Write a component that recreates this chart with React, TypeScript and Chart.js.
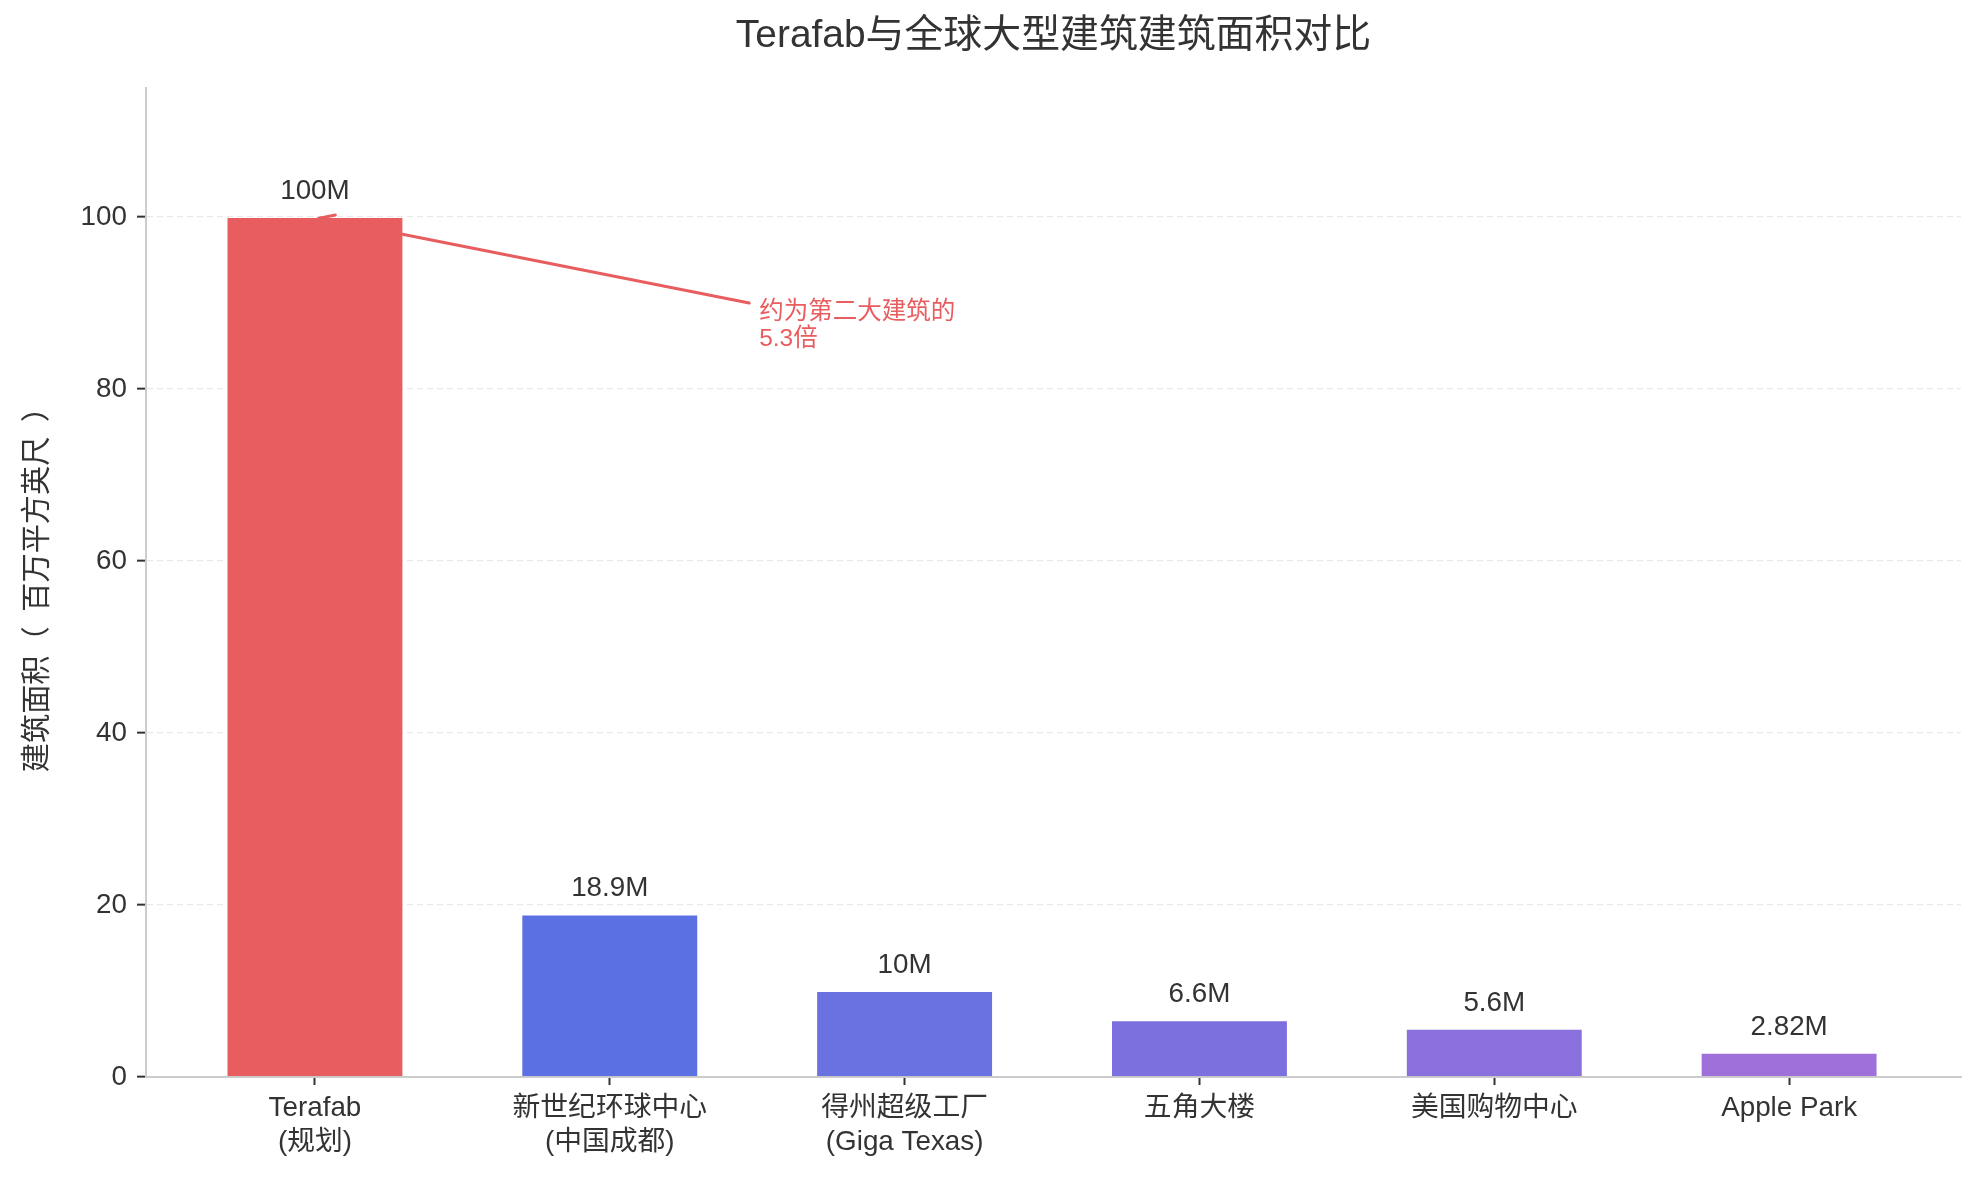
import React, { useEffect, useRef } from 'react';
import { Chart, registerables } from 'chart.js';

Chart.register(...registerables);

// ---- data ----
const categories: string[][] = [
  ['Terafab', '(规划)'],
  ['新世纪环球中心', '(中国成都)'],
  ['得州超级工厂', '(Giga Texas)'],
  ['五角大楼'],
  ['美国购物中心'],
  ['Apple Park'],
];
const areas: number[] = [100, 18.9, 10, 6.6, 5.6, 2.82];
const valueLabels: string[] = ['100M', '18.9M', '10M', '6.6M', '5.6M', '2.82M'];
const barColors: string[] = ['#E85E60', '#5B71E3', '#6A71E0', '#7B70DD', '#8A70DC', '#9F70D9'];
const yTicks: number[] = [0, 20, 40, 60, 80, 100];
const chartTitle = 'Terafab与全球大型建筑建筑面积对比';
const yAxisTitle = '建筑面积（\u2002百万平方英尺\u2002）';
const annotationLines: string[] = ['约为第二大建筑的', '5.3倍'];
const annotationTarget = { x: 0, y: 100 };
const annotationTextPos = { x: 1.5, y: 90 };

const FONT = "'Liberation Sans', 'Noto Sans CJK SC', Arial, sans-serif";
const TEXT = '#333333';
const RED = '#E85E60';

const overlayPlugin = {
  id: 'overlay',
  afterDatasetsDraw(chart: any) {
    const { ctx, scales, chartArea } = chart;
    const xs = scales.x;
    const ys = scales.y;
    ctx.save();

    // value labels
    ctx.fillStyle = TEXT;
    ctx.font = `27.8px ${FONT}`;
    ctx.textAlign = 'center';
    ctx.textBaseline = 'alphabetic';
    areas.forEach((v, i) => {
      ctx.fillText(valueLabels[i], xs.getPixelForValue(i), ys.getPixelForValue(v) - 18);
    });

    // annotation
    const tx = xs.getPixelForValue(annotationTextPos.x) + 2;
    const ty = ys.getPixelForValue(annotationTextPos.y);
    ctx.font = `24.5px ${FONT}`;
    ctx.textAlign = 'left';
    ctx.fillStyle = RED;
    const lineGap = 27;
    const base1 = ty + 16;
    annotationLines.forEach((l, i) => ctx.fillText(l, tx, base1 + i * lineGap));
    const w = Math.max(...annotationLines.map((l) => ctx.measureText(l).width));
    const boxTop = base1 - 22;
    const boxBottom = base1 + lineGap + 6;
    const cx = tx + w / 2;
    const cy = (boxTop + boxBottom) / 2;
    const px = xs.getPixelForValue(annotationTarget.x);
    const py = ys.getPixelForValue(annotationTarget.y);
    const dx = px - cx;
    const dy = py - cy;
    const len = Math.hypot(dx, dy);
    const ux = dx / len;
    const uy = dy / len;
    const startX = tx - 10;
    const tStart = (startX - cx) / ux;
    const sx = cx + ux * tStart;
    const sy = cy + uy * tStart;
    const ex = px - ux * 5.6;
    const ey = py - uy * 5.6;
    ctx.strokeStyle = RED;
    ctx.lineWidth = 3;
    ctx.lineCap = 'round';
    ctx.beginPath();
    ctx.moveTo(sx, sy);
    ctx.lineTo(ex, ey);
    ctx.stroke();
    const hl = 14;
    const hw = 6;
    ctx.beginPath();
    ctx.moveTo(ex - ux * hl - uy * hw, ey - uy * hl + ux * hw);
    ctx.lineTo(ex, ey);
    ctx.lineTo(ex - ux * hl + uy * hw, ey - uy * hl - ux * hw);
    ctx.stroke();

    // title centered over plot area
    ctx.fillStyle = TEXT;
    ctx.font = `38.9px ${FONT}`;
    ctx.textAlign = 'center';
    ctx.textBaseline = 'middle';
    ctx.fillText(chartTitle, (chartArea.left + chartArea.right) / 2, 36);
    ctx.restore();
  },
};

export default function App() {
  const canvasRef = useRef<HTMLCanvasElement | null>(null);

  useEffect(() => {
    document.body.style.margin = '0';
    const canvas = canvasRef.current;
    if (!canvas) return;
    const chart = new Chart(canvas, {
      type: 'bar',
      data: {
        datasets: [
          {
            data: areas.map((v, i) => ({ x: i, y: v })),
            backgroundColor: barColors,
            borderColor: 'rgba(255,255,255,0.25)',
            borderWidth: 1,
            categoryPercentage: 1,
            barPercentage: 0.6,
          },
        ],
      },
      options: {
        responsive: false,
        animation: false,
        devicePixelRatio: 1,
        layout: { padding: { top: 88, right: 18, left: 0, bottom: 0 } },
        plugins: {
          legend: { display: false },
          title: { display: false },
          tooltip: { enabled: false },
        },
        scales: {
          x: {
            type: 'linear',
            min: -0.573,
            max: 5.583,
            offset: false,
            afterBuildTicks: (axis: any) => {
              axis.ticks = categories.map((_, i) => ({ value: i }));
            },
            afterFit: (axis: any) => {
              axis.height = 100;
            },
            ticks: {
              autoSkip: false,
              maxRotation: 0,
              minRotation: 0,
              color: TEXT,
              padding: 7,
              font: { family: FONT, size: 27.8, lineHeight: 1.2 },
              callback: (value: any) => categories[Math.round(Number(value))] ?? '',
            },
            grid: {
              drawOnChartArea: false,
              drawTicks: true,
              tickLength: 8,
              tickWidth: 2,
              tickColor: TEXT,
              offset: false,
            },
            border: { display: true, color: '#CCCCCC', width: 2 },
          },
          y: {
            type: 'linear',
            min: 0,
            max: 115,
            afterBuildTicks: (axis: any) => {
              axis.ticks = yTicks.map((v) => ({ value: v }));
            },
            afterFit: (axis: any) => {
              axis.width = 146;
            },
            ticks: {
              color: TEXT,
              padding: 10,
              font: { family: FONT, size: 27.8 },
            },
            grid: {
              color: '#E9E9E9',
              lineWidth: 1.3,
              drawTicks: true,
              tickLength: 9,
              tickWidth: 2,
              tickColor: TEXT,
              tickBorderDash: [],
            },
            border: { display: true, color: '#CCCCCC', width: 2, dash: [6, 4] },
            title: {
              display: true,
              text: yAxisTitle,
              color: TEXT,
              font: { family: FONT, size: 29.2 },
              padding: { top: 20, bottom: 0 },
            },
          },
        },
      },
      plugins: [overlayPlugin],
    });
    return () => chart.destroy();
  }, []);

  return (
    <div style={{ width: 1979, height: 1177, background: '#fff' }}>
      <canvas ref={canvasRef} width={1979} height={1177} style={{ display: 'block' }} />
    </div>
  );
}
